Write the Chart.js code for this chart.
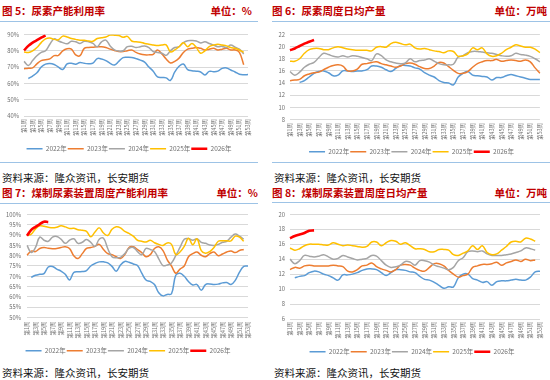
<!DOCTYPE html>
<html><head><meta charset="utf-8">
<script src="https://cdn.jsdelivr.net/npm/chart.js@4.4.1/dist/chart.umd.min.js"></script>
<style>
html,body{margin:0;padding:0;background:#fff;}
body{width:550px;height:380px;position:relative;overflow:hidden;font-family:'Noto Sans CJK SC','Noto Sans',sans-serif;}
.t{position:absolute;font-size:10.5px;font-weight:bold;color:#C00000;line-height:14px;white-space:nowrap;}
.hl{position:absolute;height:1px;background:#9DC3E6;}
.src{position:absolute;font-size:10.5px;color:#111;line-height:14px;white-space:nowrap;}
canvas{position:absolute;}
</style></head>
<body>
<div class="t" style="left:2px;top:4px;">图 5：尿素产能利用率</div>
<div class="t" style="right:298px;top:4px;">单位：%</div>
<div class="t" style="left:272px;top:4px;">图 6：尿素周度日均产量</div>
<div class="t" style="right:3px;top:4px;">单位：万吨</div>
<div class="hl" style="left:0;top:21px;width:258px;"></div>
<div class="hl" style="left:272px;top:21px;width:278px;"></div>

<div class="t" style="left:2px;top:186px;">图 7：煤制尿素装置周度产能利用率</div>
<div class="t" style="right:292px;top:186px;">单位：%</div>
<div class="t" style="left:272px;top:186px;">图 8：煤制尿素装置周度日均产量</div>
<div class="t" style="right:3px;top:186px;">单位：万吨</div>
<div class="hl" style="left:0;top:203px;width:258px;"></div>
<div class="hl" style="left:272px;top:202px;width:278px;"></div>

<div class="hl" style="left:0;top:162px;width:258px;"></div>
<div class="hl" style="left:272px;top:162px;width:278px;"></div>

<div class="src" style="left:2px;top:171px;">资料来源：隆众资讯，长安期货</div>
<div class="src" style="left:274px;top:171px;">资料来源：隆众资讯，长安期货</div>
<div class="src" style="left:2px;top:366px;">资料来源：隆众资讯，长安期货</div>
<div class="src" style="left:274px;top:366px;">资料来源：隆众资讯，长安期货</div>

<canvas id="c1" width="260" height="136" style="left:0;top:26px;"></canvas>
<canvas id="c2" width="288" height="139" style="left:262px;top:26px;"></canvas>
<canvas id="c3" width="260" height="159" style="left:0;top:205px;"></canvas>
<canvas id="c4" width="288" height="160" style="left:262px;top:205px;"></canvas>

<script>
const weekLabels = ['第1周','第2周','第3周','第4周','第5周','第6周','第7周','第8周','第9周','第10周',
'第11周','第12周','第13周','第14周','第15周','第16周','第17周','第18周','第19周','第20周',
'第21周','第22周','第23周','第24周','第25周','第26周','第27周','第28周','第29周','第30周',
'第31周','第32周','第33周','第34周','第35周','第36周','第37周','第38周','第39周','第40周',
'第41周','第42周','第43周','第44周','第45周','第46周','第47周','第48周','第49周','第50周',
'第51周','第52周','第53周'];
const yearNames = ['2022年','2023年','2024年','2025年','2026年'];
const lineColors = ['#5B9BD5','#ED7D31','#A5A5A5','#FFC000','#FF0000'];
const lineWidths = [1.5,1.5,1.5,1.5,2.6];

// 图5 尿素产能利用率 (%)
const rate2022 = [null,63.0,64.5,66.5,70.0,71.8,72.2,71.6,70.0,68.5,72.0,72.3,71.8,72.8,72.3,72.1,72.4,75.2,75.0,74.0,72.3,71.3,73.5,75.8,76.0,75.9,75.2,74.3,73.0,70.0,67.5,64.0,63.6,63.4,61.8,67.0,70.5,71.9,68.4,67.8,67.5,67.0,65.2,67.4,67.2,67.5,69.2,69.5,68.2,67.0,65.6,65.3,65.4];
const rate2023 = [69.0,69.3,69.5,72.0,74.0,74.5,75.0,77.0,77.2,80.0,81.2,81.0,77.5,77.0,81.5,82.0,82.2,82.5,82.5,82.0,81.0,80.2,79.5,79.5,80.0,80.5,79.0,78.0,77.5,77.5,77.8,80.5,78.0,75.0,72.5,73.5,75.5,79.0,81.0,81.5,82.0,81.5,80.5,81.0,81.5,80.5,81.0,81.5,80.5,80.5,79.0,71.5];
const rate2024 = [73.5,71.0,74.0,77.0,79.0,80.0,84.0,87.3,86.0,85.0,84.3,85.8,85.5,84.5,85.8,85.5,84.5,82.5,85.5,86.5,83.0,80.5,79.8,80.0,82.5,82.8,82.0,82.5,83.0,82.0,79.5,79.0,78.5,77.2,80.0,82.0,82.5,85.0,86.2,86.3,86.0,84.8,85.5,84.5,83.5,82.5,82.7,82.0,83.5,82.2,81.0,78.0];
const rate2025 = [79.3,79.0,80.0,82.0,85.0,87.3,87.8,87.0,86.8,89.0,88.5,87.5,87.0,86.5,86.5,86.0,85.8,87.5,88.0,88.5,89.6,89.6,89.4,88.3,88.8,86.0,85.5,85.3,84.5,84.0,83.6,83.2,83.5,83.6,79.3,80.5,82.5,85.0,82.5,84.5,82.0,78.5,80.0,82.5,83.5,84.0,83.5,83.0,82.0,81.5,80.5,79.0];
const rate2026 = [80.2,83.0,85.0,86.5,88.0,89.5];

// 图6 尿素周度日均产量 (万吨)
const out2022 = [null,null,14.1,14.4,15.0,15.6,15.9,16.0,15.7,15.2,15.3,16.0,16.0,15.9,16.0,16.0,16.2,16.8,16.8,16.6,16.2,15.9,16.4,16.9,16.9,16.8,16.5,16.3,15.7,15.3,15.0,14.4,14.1,14.0,13.7,15.0,15.6,15.9,15.3,15.2,15.1,15.0,14.5,14.9,14.9,15.2,15.4,15.2,15.0,14.8,14.6,14.6,14.6];
const out2023 = [14.4,14.5,14.6,15.2,15.5,15.7,15.8,16.2,16.6,16.9,17.0,16.8,16.0,16.0,16.3,17.1,17.2,17.4,17.5,17.2,17.0,16.8,16.6,16.8,17.2,17.3,17.1,16.7,16.4,16.4,16.8,17.4,17.3,16.7,16.1,15.6,15.6,15.9,16.6,17.2,17.5,17.7,17.7,17.9,17.6,17.7,17.8,17.7,17.6,17.8,17.5,16.5,15.6];
const out2024 = [15.9,15.3,15.8,16.6,17.1,17.4,18.2,18.9,18.7,18.4,18.3,18.5,18.3,18.5,18.4,18.2,18.0,17.7,18.8,18.5,17.8,17.5,17.3,17.2,17.3,18.0,17.5,17.7,17.8,18.0,17.6,17.2,17.0,17.0,17.1,18.3,18.5,19.0,19.2,19.2,19.1,19.0,18.9,18.7,18.5,18.4,18.5,18.9,18.7,18.6,18.4,18.0,17.5];
const out2025 = [17.6,17.6,18.0,18.9,19.5,19.7,19.7,19.5,19.5,19.8,20.0,19.8,19.6,19.5,19.4,19.4,19.4,19.3,19.9,20.0,19.9,20.5,20.7,20.5,20.3,20.4,19.8,19.6,19.7,19.5,19.3,19.2,19.0,19.3,19.2,18.4,18.5,18.8,19.8,19.5,19.8,18.8,18.4,18.5,18.9,19.5,19.9,20.3,20.1,19.9,19.9,19.6,19.0];
const out2026 = [19.4,19.7,20.1,20.5,20.8,21.1];

// 图7 煤制尿素装置周度产能利用率 (%)
const coal2022 = [null,69.5,70.5,71.0,71.3,74.5,74.8,73.5,72.5,71.0,68.2,71.8,72.2,72.3,72.8,75.0,76.2,77.0,77.0,76.5,74.8,72.5,75.5,77.2,76.8,76.0,75.2,71.5,68.2,67.5,66.0,62.0,60.5,61.2,61.5,70.5,71.5,70.0,67.5,65.8,66.0,63.2,66.0,66.3,66.0,66.2,66.8,67.0,66.0,68.0,72.0,74.8,75.0];
const coal2023 = [80.2,82.2,82.0,83.5,84.0,83.6,83.4,83.5,84.0,84.3,83.5,80.0,78.6,81.0,83.5,84.0,84.5,85.5,83.0,81.0,80.5,79.5,78.6,80.5,84.0,84.3,83.0,81.5,79.5,80.5,83.5,84.3,82.5,78.0,75.0,71.5,73.5,75.0,79.5,81.0,81.8,80.2,79.5,81.0,81.8,80.0,80.8,81.8,82.3,81.5,82.5,83.0];
const coal2024 = [85.0,81.5,84.0,89.0,87.5,87.0,89.0,89.3,88.0,86.0,87.5,88.2,86.0,86.5,87.8,86.5,84.5,88.0,88.5,83.5,79.5,79.0,79.2,81.0,83.5,84.0,82.0,80.5,83.5,83.0,82.0,78.5,75.2,75.5,76.5,80.0,84.0,88.0,88.3,87.5,88.2,86.5,86.0,85.2,85.0,85.5,86.5,87.0,89.0,90.5,89.5,88.0];
const coal2025 = [89.8,90.5,93.0,94.5,94.3,93.8,93.5,93.8,94.5,94.0,93.2,93.3,92.6,92.3,91.8,89.2,91.5,93.5,91.0,89.8,92.8,94.0,93.5,91.8,90.8,89.5,87.5,87.0,86.6,87.5,86.3,85.5,85.0,86.2,85.5,80.5,81.8,84.5,88.5,85.3,88.2,82.5,81.2,82.0,84.0,87.0,87.2,87.2,87.2,89.5,89.0,87.0];
const coal2026 = [89.7,92.5,94.0,95.3,96.5,96.3];

// 图8 煤制尿素装置周度日均产量 (万吨)
const cout2022 = [null,11.5,11.7,11.8,12.2,12.4,12.3,12.0,11.8,11.5,11.2,11.9,11.9,12.0,12.2,12.5,12.7,12.7,12.6,12.2,11.8,12.2,12.6,12.6,12.5,12.3,12.2,11.7,11.3,11.2,10.9,10.5,10.1,10.3,10.3,11.5,12.0,12.0,11.4,11.2,10.9,11.0,10.5,11.0,11.1,11.1,11.2,11.3,11.2,11.2,11.6,12.3,12.4];
const cout2023 = [12.6,12.9,12.8,13.1,13.2,13.1,13.1,13.1,13.1,13.2,13.1,13.0,12.4,12.3,12.6,13.1,13.2,13.5,13.0,12.7,12.5,12.3,12.6,13.2,13.3,13.2,12.8,12.5,12.4,12.9,13.4,13.4,13.1,12.5,12.0,11.6,11.8,12.0,12.9,13.1,13.3,13.3,13.4,13.6,13.2,13.5,13.7,13.9,13.7,14.0,13.8,13.9];
const cout2024 = [14.0,13.4,13.8,14.5,14.4,14.3,14.4,14.6,14.3,14.0,14.1,14.5,14.3,14.1,13.9,14.0,14.1,14.5,14.4,13.8,13.2,12.9,13.0,13.2,13.7,13.6,13.2,13.8,13.8,13.6,13.2,13.0,12.8,12.6,12.9,13.8,14.2,15.0,15.1,15.0,15.1,14.7,14.5,14.5,14.5,14.6,14.7,14.9,15.1,15.5,15.4,15.2];
const cout2025 = [15.5,15.2,15.4,15.8,16.0,16.0,16.0,15.9,15.9,16.2,16.0,15.8,15.9,15.8,15.7,15.6,15.7,16.3,16.3,15.8,16.2,16.5,16.4,16.0,16.2,15.8,15.4,15.4,15.3,15.0,15.0,15.3,15.3,15.2,14.6,14.5,14.8,15.1,15.8,15.3,15.8,14.9,14.6,14.7,15.2,15.7,16.3,16.4,16.3,16.8,16.7,16.4];
const cout2026 = [16.8,17.1,17.3,17.5,17.8,17.85];

Chart.defaults.font.family = "'Noto Sans CJK SC','Noto Sans',sans-serif";
const tickColor = '#6f6f6f';

const legendShift = {
  id: 'legendShift',
  afterLayout(chart, args, opts) {
    const lg = chart.legend;
    if (lg && opts && opts.dx) { lg.left += opts.dx; lg.right += opts.dx; }
  }
};

function build(id, series, yMin, yMax, yStep, pct, g) {
  new Chart(document.getElementById(id), {
    type: 'line',
    data: {
      labels: weekLabels,
      datasets: yearNames.map((n, i) => ({
        label: n,
        data: series[i],
        borderColor: lineColors[i],
        backgroundColor: lineColors[i],
        borderWidth: lineWidths[i],
        pointRadius: 0,
        pointHoverRadius: 0,
        tension: 0.4,
        fill: false,
        order: 5 - i
      }))
    },
    plugins: [legendShift],
    options: {
      responsive: false,
      animation: false,
      events: [],
      layout: { padding: { left: 0, right: g.padR, top: g.padT, bottom: 0 } },
      scales: {
        x: {
          offset: false,
          grid: { display: false, drawTicks: false },
          border: { display: false },
          ticks: {
            autoSkip: false, maxRotation: 90, minRotation: 90,
            color: tickColor, font: { size: 5.5 }, padding: g.xPad,
            callback: function (v, i) { return i % 2 === 0 ? weekLabels[i] : ''; }
          },
          afterFit: function (s) { s.height = g.xH; }
        },
        y: {
          min: yMin, max: yMax,
          grid: { color: '#D9D9D9', drawTicks: false, lineWidth: 1 },
          border: { display: false },
          ticks: {
            stepSize: yStep, color: tickColor, font: { size: 5.8 }, padding: g.yPad,
            callback: function (v) { return pct ? v + '%' : v; }
          },
          afterFit: function (s) { s.width = g.yW; }
        }
      },
      plugins: {
        tooltip: { enabled: false },
        legendShift: { dx: g.dx },
        legend: {
          position: 'bottom',
          labels: {
            usePointStyle: true, pointStyle: 'line', pointStyleWidth: 16,
            color: '#6f6f6f', font: { size: 6.5 }, padding: 1,
            sort: function (a, b) { return a.datasetIndex - b.datasetIndex; }
          }
        }
      }
    }
  });
}

build('c1', [rate2022, rate2023, rate2024, rate2025, rate2026], 40, 90, 5, true,
  { yW: 24, padR: 12, padT: 6, xH: 28.5, xPad: 3, yPad: 5, dx: 5 });
build('c2', [out2022, out2023, out2024, out2025, out2026], 8, 22, 2, false,
  { yW: 28, padR: 9, padT: 3.5, xH: 28, xPad: 3.5, yPad: 5, dx: 10 });
build('c3', [coal2022, coal2023, coal2024, coal2025, coal2026], 50, 100, 5, true,
  { yW: 27, padR: 12, padT: 9.3, xH: 29, xPad: 4, yPad: 6, dx: 4 });
build('c4', [cout2022, cout2023, cout2024, cout2025, cout2026], 6, 20, 2, false,
  { yW: 28, padR: 10, padT: 9.3, xH: 28.5, xPad: 2.7, yPad: 5, dx: 11 });
</script>
</body></html>
